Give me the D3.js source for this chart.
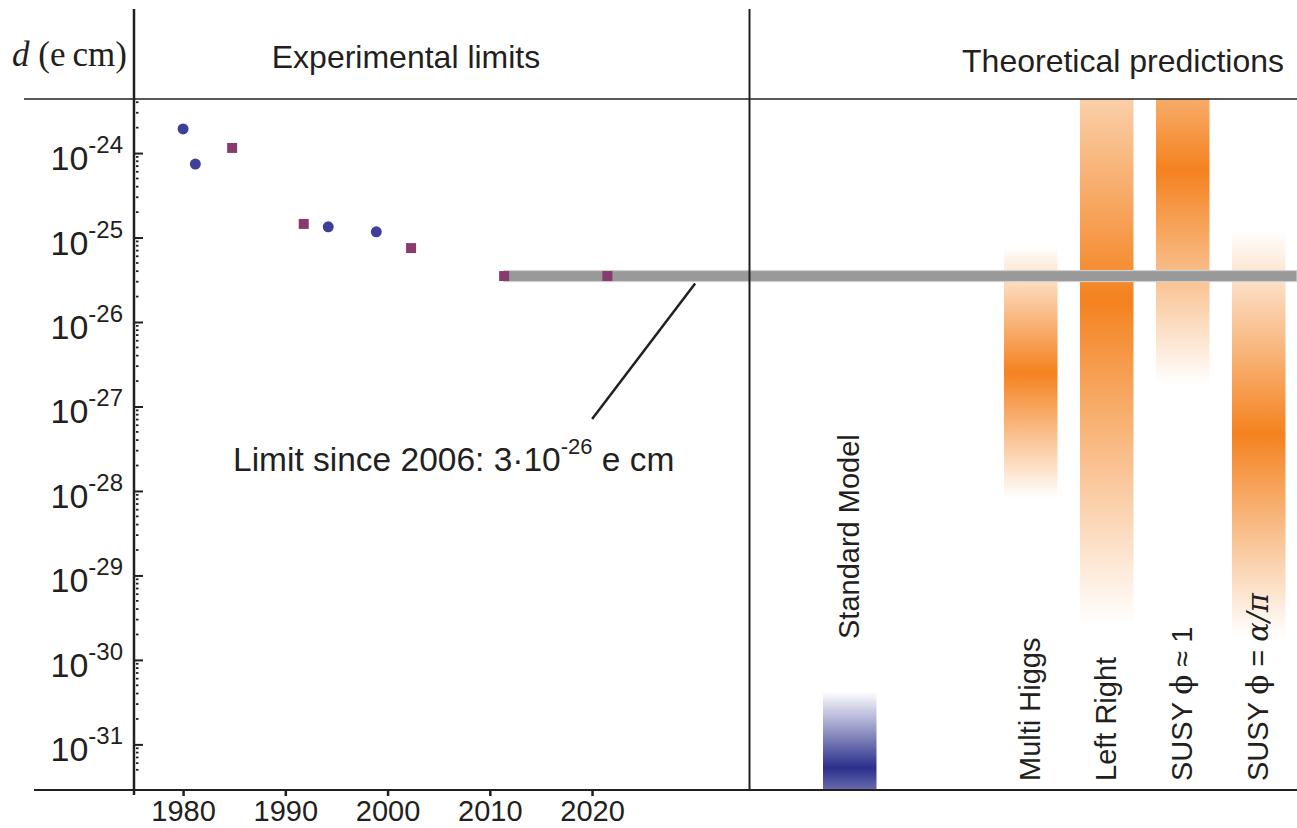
<!DOCTYPE html>
<html>
<head>
<meta charset="utf-8">
<script src="https://cdn.jsdelivr.net/npm/d3@7"></script>
<style>
  html, body { margin: 0; padding: 0; background: #fff; }
  svg { display: block; }
  text { font-family: "Liberation Sans", Arial, Helvetica, sans-serif; fill: #231f20; }
</style>
</head>
<body>
<svg id="chart" width="1297" height="828"></svg>
<script>
// ---------------- data ----------------
const yearTicks = [1980, 1990, 2000, 2010, 2020];
const decadeExponents = [-24, -25, -26, -27, -28, -29, -30, -31];

// experimental upper limits (two groups of measurements)
const circleYears  = [1980.0, 1981.2, 1994.2, 1998.9];
const circleLimits = [1.93e-24, 7.4e-25, 1.34e-25, 1.17e-25];
const squareYears  = [1984.8, 1991.8, 2002.3, 2011.4, 2021.5];
const squareLimits = [1.15e-24, 1.45e-25, 7.5e-26, 3.5e-26, 3.5e-26];

// current limit band
const limitValue = 3.5e-26;
const limitStartYear = 2011.4;

// theoretical predictions: ranges (low, high); the peak sits at the log-midpoint
const models     = ["Standard Model", "Multi Higgs", "Left Right", "SUSY ϕ ≈ 1", "SUSY ϕ = α/π"];
const modelLow   = [6.6e-33, 8.1e-29, 2.6e-30, 1.8e-27, 1.9e-30];
const modelHigh  = [4.2e-31, 7.8e-26, 1.3e-22, 2.2e-22, 1.2e-25];

// ---------------- layout ----------------
const svg = d3.select("#chart");
const W = 1297;
const axisX = 134, dividerX = 749.5, plotTop = 99, plotBottom = 790, frameTop = 9;

const x = d3.scaleLinear().domain([1975.2, 2035.4]).range([axisX, dividerX]);
const y = d3.scaleLog().domain([Math.pow(10, -31.54), Math.pow(10, -23.36)]).range([plotBottom, plotTop]);

const ink = "#231f20";
const orange = "#f4821f";
const navy = "#2b2f8b";

// theory band scale
const bsm = models.slice(1);
const xb = d3.scaleBand().domain(bsm).range([dividerX + 254.5, dividerX + 536]).paddingInner(0.296).paddingOuter(0);
const bw = xb.bandwidth();
const smLeft = dividerX + 73.5;
const bandX = m => m === models[0] ? smLeft : xb(m);

const defs = svg.append("defs");
defs.append("clipPath").attr("id", "plotClip")
  .append("rect").attr("x", 0).attr("y", plotTop).attr("width", W).attr("height", plotBottom - plotTop);

// gradients for theory bars
models.forEach((m, i) => {
  const col = i === 0 ? navy : orange;
  const g = defs.append("linearGradient").attr("id", "grad" + i)
    .attr("gradientUnits", "userSpaceOnUse")
    .attr("x1", 0).attr("x2", 0)
    .attr("y1", y(modelHigh[i])).attr("y2", y(modelLow[i]));
  g.append("stop").attr("offset", 0).attr("stop-color", "#ffffff");
  g.append("stop").attr("offset", 0.5).attr("stop-color", col);
  g.append("stop").attr("offset", 1).attr("stop-color", "#ffffff");
});

// theory bars
svg.append("g").attr("clip-path", "url(#plotClip)")
  .selectAll("rect").data(models).join("rect")
  .attr("x", m => bandX(m))
  .attr("width", bw)
  .attr("y", (m, i) => Math.max(plotTop, y(modelHigh[i])))
  .attr("height", (m, i) => Math.min(plotBottom, y(modelLow[i])) - Math.max(plotTop, y(modelHigh[i])))
  .attr("fill", (m, i) => `url(#grad${i})`);

// limit band
svg.append("rect")
  .attr("x", x(limitStartYear))
  .attr("y", y(limitValue) - 5.5)
  .attr("width", W - x(limitStartYear))
  .attr("height", 11)
  .attr("fill", "#999999")
  .attr("stroke", "#cfcfcf")
  .attr("stroke-width", 1.2);

// frame lines
svg.append("line").attr("x1", 24).attr("x2", W).attr("y1", plotTop).attr("y2", plotTop)
  .attr("stroke", ink).attr("stroke-width", 1.3);
svg.append("line").attr("x1", 34).attr("x2", W).attr("y1", plotBottom).attr("y2", plotBottom)
  .attr("stroke", ink).attr("stroke-width", 2);
svg.append("line").attr("x1", axisX).attr("x2", axisX).attr("y1", frameTop).attr("y2", plotBottom + 5)
  .attr("stroke", ink).attr("stroke-width", 2.5);
svg.append("line").attr("x1", dividerX).attr("x2", dividerX).attr("y1", frameTop).attr("y2", plotBottom)
  .attr("stroke", ink).attr("stroke-width", 2);

// x axis ticks + labels
const xAxis = d3.axisBottom(x).tickValues(yearTicks).tickFormat(d3.format("d")).tickSize(6).tickSizeOuter(0);
const gx = svg.append("g").attr("transform", `translate(0,${plotBottom})`).call(xAxis)
  .attr("font-size", null).attr("font-family", null);
gx.select(".domain").remove();
gx.selectAll(".tick line").attr("stroke", ink).attr("stroke-width", 2.5);
gx.selectAll(".tick text")
  .style("font-size", "29px")
  .style("font-family", "'Liberation Sans', Arial, sans-serif")
  .attr("fill", ink).attr("dy", 0).attr("y", 31);

// y axis: major ticks (inward)
const majors = decadeExponents.map(e => Math.pow(10, e));
const yAxis = d3.axisRight(y).tickValues(majors).tickSize(9).tickFormat("");
const gy = svg.append("g").attr("transform", `translate(${axisX},0)`).call(yAxis);
gy.select(".domain").remove();
gy.selectAll(".tick line").attr("stroke", ink).attr("stroke-width", 2);

// minor ticks (dots)
const minors = [];
[-23, -24, -25, -26, -27, -28, -29, -30, -31, -32].forEach(e => {
  for (let k = 2; k <= 9; k++) {
    const v = k * Math.pow(10, e);
    if (v > y.domain()[0] && v < y.domain()[1] && v >= 5e-32) minors.push(v);
  }
});
svg.append("g").selectAll("line").data(minors).join("line")
  .attr("x1", axisX + 2).attr("x2", axisX + 4.5)
  .attr("y1", d => y(d)).attr("y2", d => y(d))
  .attr("stroke", ink).attr("stroke-width", 1.8);

// y tick labels 10^e
const yl = svg.append("g").selectAll("text").data(decadeExponents).join("text")
  .attr("x", 123).attr("y", e => y(Math.pow(10, e)) + 17)
  .attr("text-anchor", "end");
yl.append("tspan").attr("font-size", 34).text("10");
yl.append("tspan").attr("font-size", 24).attr("dy", -17).text(e => String(e));

// y axis title
const yt = svg.append("text").attr("x", 12).attr("y", 66)
  .style("font-family", "'Liberation Serif', 'DejaVu Serif', serif").attr("font-size", 35);
yt.append("tspan").attr("font-style", "italic").text("d");
yt.append("tspan").text(" (e\u2009cm)");

// section headers
svg.append("text").attr("x", 406).attr("y", 68).attr("text-anchor", "middle")
  .attr("font-size", 32).text("Experimental limits");
svg.append("text").attr("x", 1284).attr("y", 72).attr("text-anchor", "end")
  .attr("font-size", 32).text("Theoretical predictions");

// data points
svg.append("g").selectAll("circle").data(circleYears).join("circle")
  .attr("cx", (d) => x(d)).attr("cy", (d, i) => y(circleLimits[i])).attr("r", 5.5)
  .attr("fill", "#3d3f9b");
svg.append("g").selectAll("rect").data(squareYears).join("rect")
  .attr("x", d => x(d) - 5).attr("y", (d, i) => y(squareLimits[i]) - 5)
  .attr("width", 10).attr("height", 10)
  .attr("fill", "#893b6f");

// annotation
svg.append("line")
  .attr("x1", x(limitStartYear) + 191).attr("y1", y(limitValue) + 7.5)
  .attr("x2", x(limitStartYear) + 88).attr("y2", y(limitValue) + 143)
  .attr("stroke", ink).attr("stroke-width", 2.5);
const ann = svg.append("text").attr("x", 233).attr("y", 471).attr("font-size", 33.5);
ann.append("tspan").text("Limit since 2006: 3\u00b710");
ann.append("tspan").attr("font-size", 22).attr("dy", -17).text("-26");
ann.append("tspan").attr("dy", 17).text(" e cm");

// model labels (rotated)
const labelBase = [639, 781, 781, 781, 781];
const lab = svg.append("g").selectAll("text").data(models).join("text")
  .attr("transform", (m, i) => `translate(${bandX(m) + bw / 2 + 9},${labelBase[i]}) rotate(-90)`)
  .attr("font-size", 29);
lab.each(function(m) {
  const t = d3.select(this);
  const parts = m.split(/([ϕα/π]+)/).filter(s => s.length);
  parts.forEach(p => {
    const sp = t.append("tspan").text(p);
    if (/[ϕαπ]/.test(p)) sp.style("font-family", "'DejaVu Serif', 'Liberation Serif', serif")
      .attr("font-style", p.includes("α") ? "italic" : null);
  });
});
</script>
</body>
</html>
